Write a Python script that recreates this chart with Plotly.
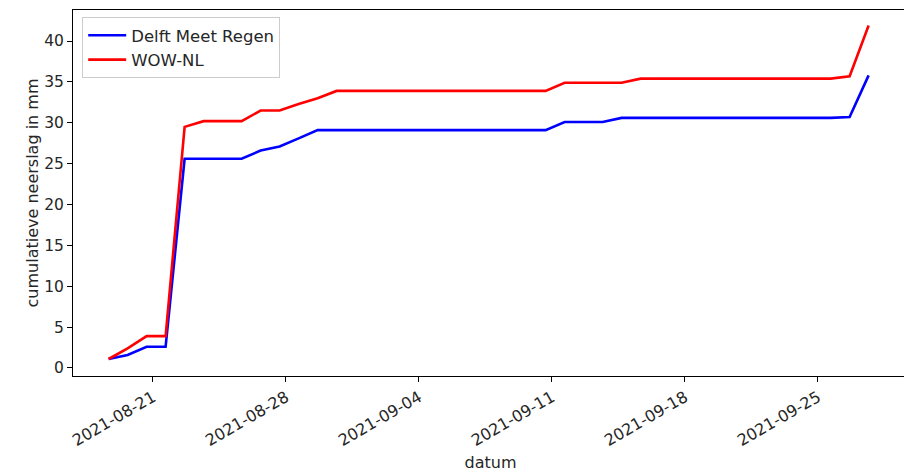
import pandas as pd
import plotly.graph_objects as go

dates = pd.date_range("2021-08-18 16:00", periods=41, freq="D")

delft_meet_regen = [
    1.1, 1.6, 2.6, 2.6, 25.6, 25.6, 25.6, 25.6, 26.6, 27.1,
    28.1, 29.1, 29.1, 29.1, 29.1, 29.1, 29.1, 29.1, 29.1, 29.1,
    29.1, 29.1, 29.1, 29.1, 30.1, 30.1, 30.1, 30.6, 30.6, 30.6,
    30.6, 30.6, 30.6, 30.6, 30.6, 30.6, 30.6, 30.6, 30.6, 30.7,
    35.8,
]
wow_nl = [
    1.1, 2.4, 3.9, 3.9, 29.5, 30.2, 30.2, 30.2, 31.5, 31.5,
    32.3, 33.0, 33.9, 33.9, 33.9, 33.9, 33.9, 33.9, 33.9, 33.9,
    33.9, 33.9, 33.9, 33.9, 34.9, 34.9, 34.9, 34.9, 35.4, 35.4,
    35.4, 35.4, 35.4, 35.4, 35.4, 35.4, 35.4, 35.4, 35.4, 35.7,
    41.9,
]

x_tickvals = ["2021-08-21", "2021-08-28", "2021-09-04", "2021-09-11", "2021-09-18", "2021-09-25"]
y_tickvals = [0, 5, 10, 15, 20, 25, 30, 35, 40]

FONT = "DejaVu Sans"
TXT = "#262626"

fig = go.Figure()
fig.add_trace(go.Scatter(x=dates, y=delft_meet_regen, mode="lines", name="Delft Meet Regen",
                         line=dict(color="#0000ff", width=2.6)))
fig.add_trace(go.Scatter(x=dates, y=wow_nl, mode="lines", name="WOW-NL",
                         line=dict(color="#ff0000", width=2.6)))

fig.update_layout(
    width=904, height=465,
    margin=dict(l=65, r=4, t=2, b=97, autoexpand=False),
    paper_bgcolor="white", plot_bgcolor="white",
    font=dict(family=FONT, size=16, color=TXT),
    showlegend=True,
    legend=dict(x=0.011, y=0.981, xanchor="left", yanchor="top",
                bgcolor="rgba(255,255,255,0.8)", bordercolor="#cccccc", borderwidth=1,
                itemwidth=38,
                font=dict(family=FONT, size=16.5, color=TXT), tracegroupgap=0),
)
fig.update_xaxes(
    range=["2021-08-16 19:00", "2021-09-29 17:45"],
    tickvals=x_tickvals, ticktext=x_tickvals, tickangle=-30,
    tickfont=dict(family=FONT, size=16, color=TXT),
    showline=True, linecolor="black", linewidth=1, mirror=True,
    ticks="outside", ticklen=5, tickcolor="black", showgrid=False, zeroline=False,
    title=dict(text="datum", font=dict(family=FONT, size=16, color=TXT), standoff=7),
)
fig.update_yaxes(
    range=[-0.98, 43.8],
    tickvals=y_tickvals,
    tickfont=dict(family=FONT, size=15.5, color=TXT),
    showline=True, linecolor="black", linewidth=1, mirror=True,
    ticks="outside", ticklen=5, tickcolor="black", showgrid=False, zeroline=False,
    title=dict(text="cumulatieve neerslag in mm", font=dict(family=FONT, size=16, color=TXT), standoff=1),
)

fig.write_html("out.html")
